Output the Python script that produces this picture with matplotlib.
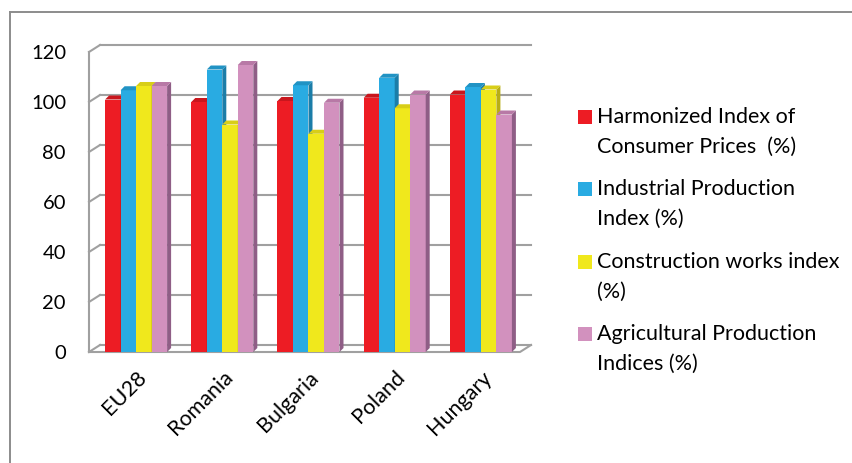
import matplotlib
matplotlib.use("Agg")
import matplotlib.pyplot as plt
import matplotlib.transforms as mtransforms
from matplotlib.patches import Polygon, Rectangle
from matplotlib.lines import Line2D

plt.rcParams['font.family'] = ['Lato', 'DejaVu Sans']

categories = ["EU28", "Romania", "Bulgaria", "Poland", "Hungary"]
series_names = ["Harmonized Index of\nConsumer Prices  (%)",
                "Industrial Production\nIndex (%)",
                "Construction works index\n(%)",
                "Agricultural Production\nIndices (%)"]
hicp = [101.0, 100.0, 100.4, 101.7, 103.0]
industrial = [104.7, 113.0, 106.7, 109.7, 106.0]
construction = [106.4, 91.0, 87.3, 97.5, 105.0]
agricultural = [106.4, 114.8, 99.7, 103.0, 95.0]
yticks = [0, 20, 40, 60, 80, 100, 120]

front_colors = ["#ED1C24", "#29ABE2", "#F0E81C", "#D291BE"]
side_colors = ["#A81419", "#1B7DA8", "#B8AE14", "#8F5E86"]
top_colors = ["#C9161D", "#2193C4", "#D8CE18", "#B879A6"]

W, H = 853, 463
fig = plt.figure(figsize=(W / 100, H / 100), dpi=100)

def fx(px):
    return px / W

def fy(py):
    return 1 - py / H

# outer border (left & top)
fig.add_artist(Line2D([fx(9.5), fx(9.5)], [0, fy(12)], color="#8C8C8C", lw=1.4, transform=fig.transFigure))
fig.add_artist(Line2D([fx(9.5), 1], [fy(12), fy(12)], color="#8C8C8C", lw=1.4, transform=fig.transFigure))

left, right, top, bottom = 89, 520, 52, 352
ax = fig.add_axes([fx(left), fy(bottom), (right - left) / W, (bottom - top) / H])
ax.set_xlim(-0.5, len(categories) - 0.5)
ax.set_ylim(0, 120)
for s in ax.spines.values():
    s.set_visible(False)

pxx = (right - left) / len(categories)   # px per x unit
pxy = (bottom - top) / 120.0              # px per y unit
ddx, ddy = 11 / pxx, 7 / pxy              # wall depth in data units

grid_col = "#A0A0A0"
glw = 1.5
x0, x1 = -0.5, len(categories) - 0.5
for v in yticks:
    ax.plot([x0 + ddx, x1 + ddx], [v + ddy, v + ddy], color=grid_col, lw=glw, clip_on=False, zorder=1)
    ax.plot([x0, x0 + ddx], [v, v + ddy], color=grid_col, lw=glw, clip_on=False, zorder=1)
ax.plot([x0, x0], [0, 120], color=grid_col, lw=glw, clip_on=False, zorder=1)
ax.plot([x0, x1, x1 + ddx], [0, 0, ddy], color=grid_col, lw=glw, clip_on=False, zorder=1)

series = [hicp, industrial, construction, agricultural]
bw = 15.5 / pxx
shift = 4 / pxx
bdx, bdy = 4 / pxx, 4 / pxy
xs = list(range(len(categories)))
for i, vals in enumerate(series):
    pos = [x + shift + (i - 1.5) * bw for x in xs]
    bars = ax.bar(pos, vals, width=bw, color=front_colors[i], zorder=3, clip_on=False,
                  label=series_names[i].replace("\n", " "))
    for b in bars:
        bx, by, w, h = b.get_x(), b.get_y(), b.get_width(), b.get_height()
        side = Polygon([(bx + w, by), (bx + w + bdx, by + bdy), (bx + w + bdx, h + bdy), (bx + w, h)],
                       closed=True, facecolor=side_colors[i], edgecolor="none", zorder=3, clip_on=False)
        topf = Polygon([(bx, h), (bx + bdx, h + bdy), (bx + w + bdx, h + bdy), (bx + w, h)],
                       closed=True, facecolor=top_colors[i], edgecolor="none", zorder=3, clip_on=False)
        ax.add_patch(side)
        ax.add_patch(topf)

ax.set_yticks(yticks)
ax.set_yticklabels([str(t) for t in yticks], fontsize=14.5, color="#000000")
down = mtransforms.ScaledTranslation(0, -3 / 100, fig.dpi_scale_trans)
for lab in ax.get_yticklabels():
    lab.set_transform(lab.get_transform() + down)
ax.set_xticks([x + shift for x in xs])
ax.set_xticklabels(categories, fontsize=15.5, rotation=45, ha="right", va="top",
                   rotation_mode="anchor", color="#000000")
ax.tick_params(axis="y", length=0, pad=23 / 100 * 72)
ax.tick_params(axis="x", length=0, pad=15 / 100 * 72)

# legend
first_lines = [117, 189, 262, 334]
for i, name in enumerate(series_names):
    y = first_lines[i]
    fig.add_artist(Rectangle((fx(578), fy(y + 7)), 14 / W, 14 / H, facecolor=front_colors[i],
                             edgecolor="none", transform=fig.transFigure))
    for j, line in enumerate(name.split("\n")):
        fig.text(fx(597), fy(y + 30 * j), line, fontsize=15.5, va="center", ha="left", color="#000000")

fig.savefig("out.png", dpi=100)
